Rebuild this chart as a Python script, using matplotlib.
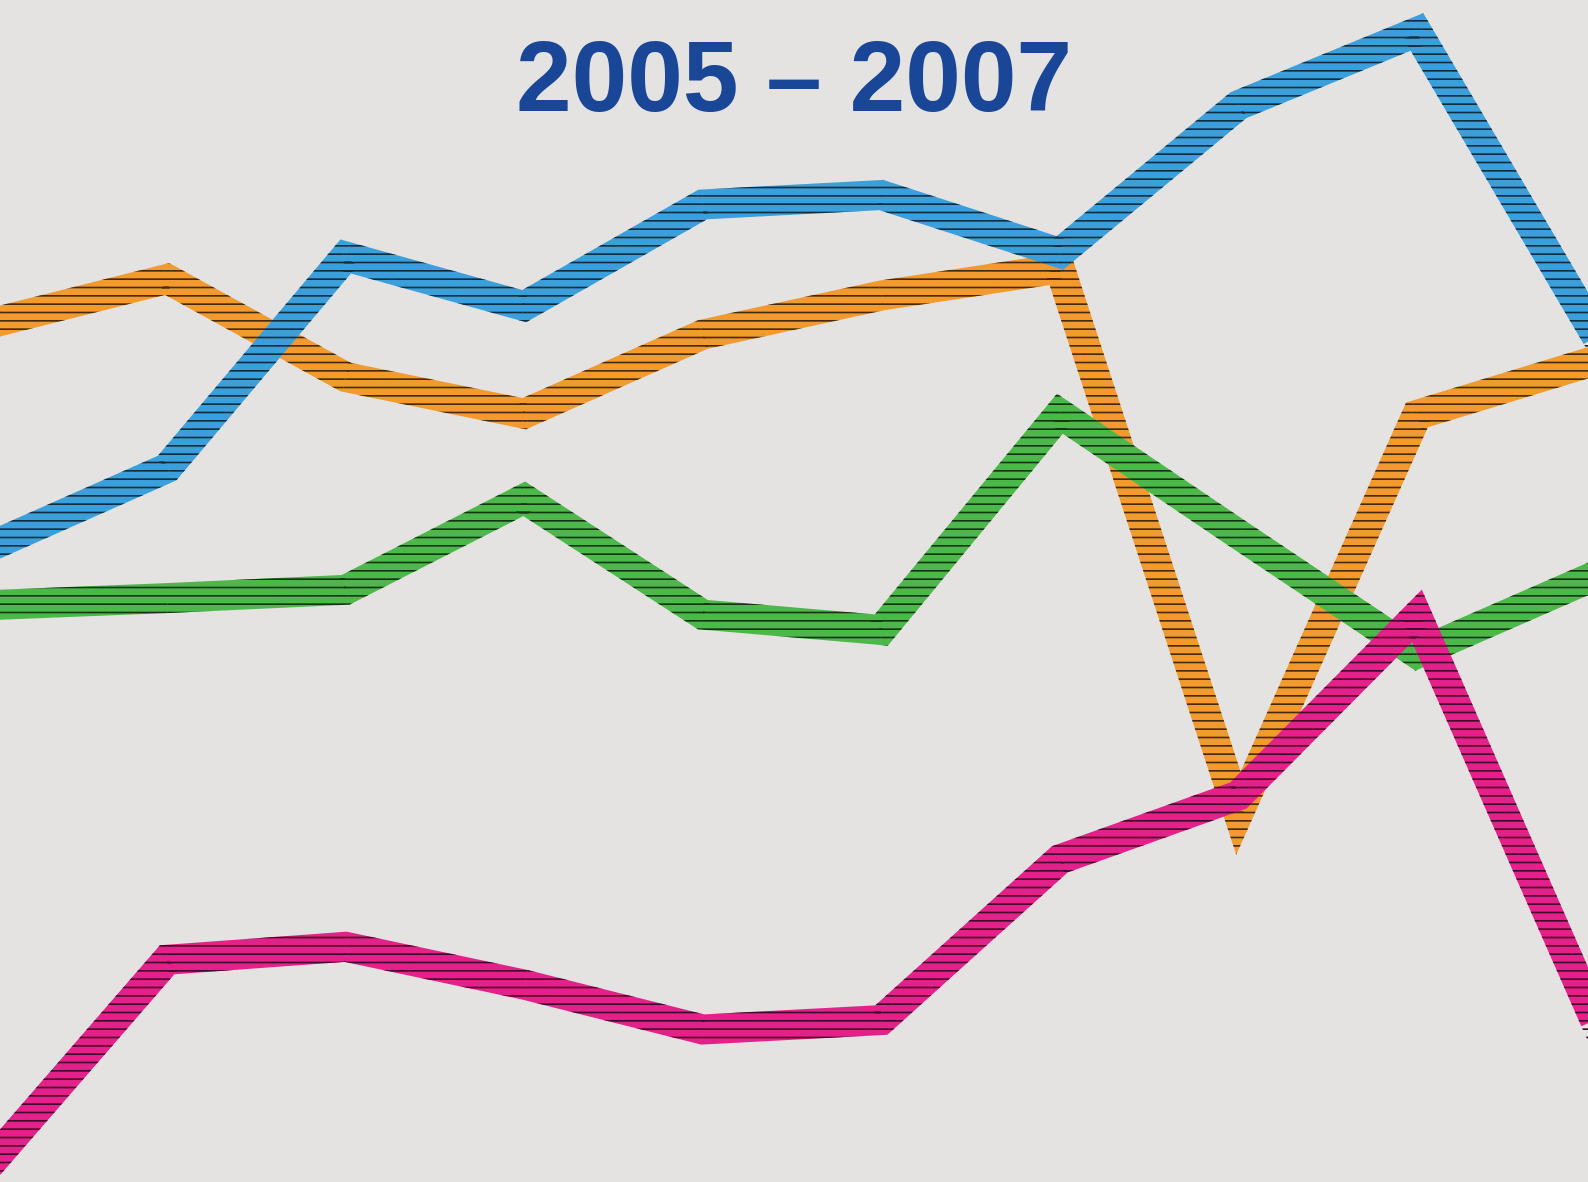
import numpy as np
import matplotlib
matplotlib.use("Agg")
import matplotlib.pyplot as plt
from matplotlib.patches import Polygon
from matplotlib.colors import to_rgb

# data (index points, 0 = bottom of chart, 100 = top)
periods = np.arange(10)
orange = [72.6, 76.4, 68.1, 65.0, 71.7, 75.0, 77.3, 31.2, 64.9, 69.5]
blue = [53.7, 60.4, 78.3, 74.1, 82.7, 83.5, 78.6, 91.1, 97.3, 71.7]
green = [48.8, 49.4, 50.1, 57.8, 48.0, 46.7, 65.0, 54.8, 44.7, 51.3]
pink = [1.4, 18.8, 19.9, 16.7, 12.9, 13.7, 27.3, 32.7, 47.9, 13.6]

title = "2005 \u2013 2007"
bg = "#e4e3e1"
DPI = 100
WIDTH_PX = 30


def unit(v):
    return v / np.hypot(v[0], v[1])


def stroke_pieces(ax, xs, ys, h):
    # outline pieces of a thick mitred line (projecting caps), in pixels
    pts = ax.transData.transform(np.column_stack([xs, ys]))
    pts[0] = pts[0] - unit(pts[1] - pts[0]) * h
    pts[-1] = pts[-1] + unit(pts[-1] - pts[-2]) * h
    polys = []
    for a, b in zip(pts[:-1], pts[1:]):
        d = unit(b - a)
        n = np.array([-d[1], d[0]])
        polys.append([a + n * h, b + n * h, b - n * h, a - n * h])
    for i in range(1, len(pts) - 1):
        p = pts[i]
        d1 = unit(pts[i] - pts[i - 1])
        d2 = unit(pts[i + 1] - pts[i])
        n1 = np.array([-d1[1], d1[0]])
        n2 = np.array([-d2[1], d2[0]])
        m = n1 + n2
        if np.hypot(*m) < 1e-6:
            continue
        m = unit(m)
        L = h / np.dot(m, n1)
        for s in (1, -1):
            polys.append([p, p + s * n1 * h, p + s * m * L, p + s * n2 * h])
    return polys


plt.rcParams["hatch.linewidth"] = 1.2

fig = plt.figure(figsize=(15.88, 11.82), dpi=DPI, facecolor=bg)
ax = fig.add_axes([0, 0, 1, 1])
ax.set_facecolor(bg)
ax.set_xlim(0.064, 8.958)
ax.set_ylim(0, 100)
ax.axis("off")

series = [(orange, "#f29a2e", 2), (green, "#4cb84a", 3),
          (blue, "#3a9fdb", 4), (pink, "#e4218a", 5)]
for vals, col, z in series:
    ax.plot(periods, vals, color=col, lw=WIDTH_PX * 72 / DPI,
            solid_joinstyle="miter", solid_capstyle="projecting", zorder=z)
    dark = tuple(0.28 * c for c in to_rgb(col))
    for poly in stroke_pieces(ax, periods, vals, WIDTH_PX / 2):
        ax.add_patch(Polygon(poly, closed=True, transform=None,
                             facecolor="none", edgecolor=dark,
                             lw=0, hatch="--", zorder=z + 0.5))

fig.text(0.5003, 0.9063, title, ha="center", va="baseline",
         fontsize=72, fontweight="bold", family="Liberation Sans",
         color="#1a4698")

fig.savefig("out.png", dpi=DPI, facecolor=bg)
